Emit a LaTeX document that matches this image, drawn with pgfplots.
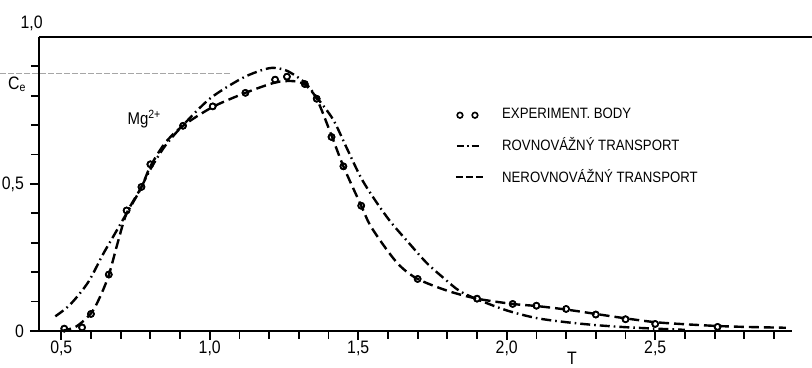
\documentclass[border=0pt]{standalone}
\usepackage{fontspec}
\setmainfont{Liberation Sans}[FakeStretch=0.88]
\usepackage{pgfplots}
\usepackage{pgfplotstable}
\pgfplotsset{compat=1.18}

\pgfplotstableread{
x y
0.51 0.008
0.57 0.012
0.60 0.058
0.66 0.192
0.72 0.410
0.77 0.490
0.80 0.567
0.91 0.698
1.01 0.764
1.12 0.810
1.22 0.855
1.26 0.865
1.32 0.840
1.36 0.790
1.41 0.660
1.45 0.560
1.51 0.426
1.70 0.177
1.90 0.110
2.02 0.092
2.10 0.086
2.20 0.075
2.30 0.056
2.40 0.040
2.50 0.024
2.71 0.014
}\exper

\pgfplotstableread{
x y
0.48 0.050
0.53 0.090
0.59 0.165
0.64 0.260
0.68 0.330
0.72 0.400
0.76 0.470
0.80 0.550
0.85 0.630
0.91 0.700
1.00 0.790
1.10 0.855
1.16 0.882
1.21 0.895
1.26 0.885
1.32 0.845
1.36 0.795
1.415 0.720
1.46 0.625
1.51 0.520
1.56 0.440
1.61 0.370
1.67 0.300
1.73 0.232
1.79 0.178
1.84 0.137
1.90 0.108
2.00 0.070
2.10 0.044
2.20 0.030
2.30 0.020
2.40 0.013
2.50 0.008
2.60 0.004
}\rovn

\pgfplotstableread{
x y
0.50 0.000
0.55 0.015
0.60 0.060
0.63 0.115
0.66 0.190
0.69 0.300
0.72 0.400
0.77 0.490
0.80 0.560
0.85 0.640
0.91 0.698
1.01 0.762
1.12 0.810
1.22 0.845
1.28 0.850
1.32 0.838
1.36 0.790
1.41 0.665
1.45 0.560
1.51 0.426
1.54 0.360
1.59 0.285
1.64 0.222
1.70 0.177
1.80 0.137
1.90 0.110
2.02 0.092
2.10 0.085
2.20 0.073
2.30 0.058
2.40 0.043
2.50 0.030
2.60 0.023
2.71 0.017
2.80 0.014
2.94 0.011
}\nerovn

\begin{document}
\begin{tikzpicture}
\useasboundingbox (-19.5pt,-18.5pt) rectangle (386.5pt,165.5pt);
\begin{axis}[
  at={(0pt,0pt)}, anchor=south west,
  scale only axis, width=376.4pt, height=147pt,
  xmin=0.425, xmax=2.96, ymin=0, ymax=1,
  axis x line*=bottom, axis y line*=left,
  axis line style={line width=1.3pt, -},
  tick align=outside,
  major tick length=4.5pt, minor tick length=4pt,
  every tick/.style={black, line width=0.9pt},
  every minor tick/.style={black, line width=0.9pt},
  xtick={0.5,1,1.5,2,2.5},
  xticklabels={{0,5},{1,0},{1,5},{2,0},{2,5}},
  minor xtick={0.6,0.7,0.8,0.9,1.1,1.2,1.3,1.4,1.6,1.7,1.8,1.9,2.1,2.2,2.3,2.4,2.6,2.7,2.8,2.9},
  ytick={0,0.5}, yticklabels={0,{0,5}},
  minor ytick={0.1,0.2,0.3,0.4,0.6,0.7,0.8,0.9},
  tick label style={font=\fontsize{9}{10}\selectfont},
  xticklabel style={yshift=3pt},
  yticklabel style={xshift=0.5pt},
  clip=false,
  legend cell align=left,
  legend style={draw=none, fill=none, at={(0.552,0.765)}, anchor=north west,
    font=\fontsize{7.5}{9}\selectfont, row sep=5.8pt, inner sep=0pt,
    nodes={inner sep=1pt}},
]
\addplot[only marks, mark=o, mark size=1.5pt, mark options={line width=0.8pt, black},
  legend image code/.code={
    \draw[black, line width=0.8pt] (1.5pt,0pt) circle (1.4pt);
    \draw[black, line width=0.8pt] (9pt,0pt) circle (1.4pt);
    \path (21pt,0pt);}]
  table {\exper};
\addlegendentry{EXPERIMENT. BODY}
\addplot[black, line width=1.2pt, smooth, tension=0.5,
  dash pattern=on 5pt off 2pt on 0.8pt off 2pt,
  legend image code/.code={
    \draw[black, line width=1pt, dash pattern=on 3.5pt off 1.5pt on 0.8pt off 1.5pt] (0pt,0pt) -- (12pt,0pt);
    \path (21pt,0pt);}]
  table {\rovn};
\addlegendentry{ROVNOVÁŽNÝ TRANSPORT}
\addplot[black, line width=1.2pt, smooth, tension=0.5,
  dash pattern=on 5pt off 2.5pt,
  legend image code/.code={
    \draw[black, line width=1pt, dash pattern=on 3.5pt off 1.5pt] (-0.5pt,0pt) -- (13pt,0pt);
    \path (21pt,0pt);}]
  table {\nerovn};
\addlegendentry{NEROVNOVÁŽNÝ TRANSPORT}
\addplot[forget plot, only marks, mark=o, mark size=1.5pt, mark options={line width=0.8pt, black, fill=white}]
  table {\exper};
% top line at 1.0 and C_e level
\addplot[forget plot, black, line width=1.2pt] coordinates {(0.425,1) (3.03,1)};
\addplot[forget plot, gray!70, line width=0.5pt, dash pattern=on 3pt off 1pt] coordinates {(0.294,0.875) (1.07,0.875)};
\node[anchor=south, font=\fontsize{9}{10}\selectfont, inner sep=0pt] at (axis cs:0.40,1.018) {1,0};
\node[anchor=north west, font=\fontsize{9}{10}\selectfont, inner sep=0pt] at (axis cs:0.32,0.865) {C\textsubscript{e}};
\node[font=\fontsize{8.5}{10}\selectfont] at (axis cs:0.78,0.72) {Mg\textsuperscript{2+}};
\node[font=\fontsize{9}{10}\selectfont, inner sep=0pt] at (axis cs:2.22,0) [yshift=-13.5pt] {T};
\end{axis}
\end{tikzpicture}
\end{document}
